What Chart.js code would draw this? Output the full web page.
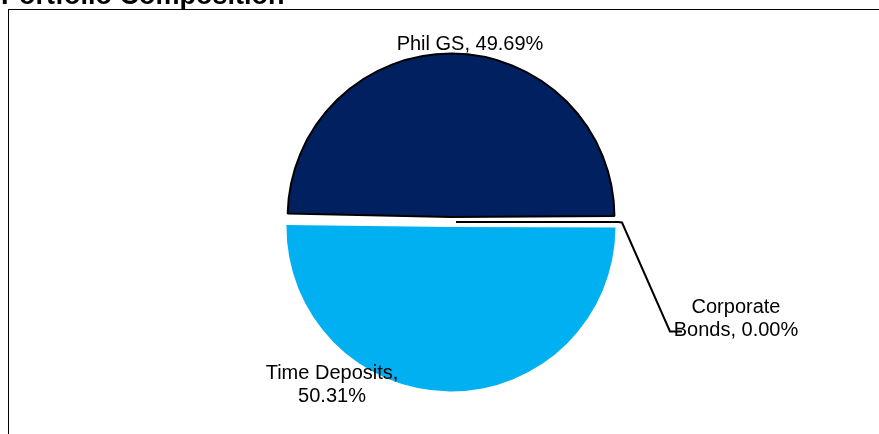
<!DOCTYPE html>
<html>
<head>
<meta charset="utf-8">
<script src="https://cdn.jsdelivr.net/npm/chart.js@4.4.1/dist/chart.umd.min.js"></script>
<style>
  html, body { margin: 0; padding: 0; background: #fff; }
  #wrap { position: relative; width: 879px; height: 434px; overflow: hidden; }
</style>
</head>
<body>
<div id="wrap"><canvas id="chartPortfolio"></canvas></div>
<script>
// Data portofolio
const categories = ['Phil GS', 'Corporate Bonds', 'Time Deposits'];
const shares = [49.69, 0.00, 50.31];
const sliceColors = ['#002060', '#000000', '#00B0F0'];
const titleText = 'Portfolio Composition';

// "Nama, 49.69%" dipecah per baris seperti di gambar
function labelLines(i) {
    const text = categories[i] + ', ' + shares[i].toFixed(2) + '%';
    if (i === 1) return ['Corporate', 'Bonds, ' + shares[i].toFixed(2) + '%'];
    if (i === 2) return [categories[i] + ',', shares[i].toFixed(2) + '%'];
    return [text];
}

const framePlugin = {
    id: 'frame',
    afterDraw(chart) {
        const ctx = chart.ctx;
        const arcs = chart.getDatasetMeta(0).data;
        const cx = arcs[0].x, cy = arcs[0].y, r = arcs[0].outerRadius;

        ctx.save();
        // frame
        ctx.strokeStyle = '#000';
        ctx.lineWidth = 1;
        ctx.strokeRect(8.5, 9.5, 900, 500);

        // title (cut off at the top, as in the picture)
        ctx.fillStyle = '#000';
        ctx.font = 'bold 27px "Liberation Sans", Arial, sans-serif';
        ctx.textAlign = 'left';
        ctx.textBaseline = 'alphabetic';
        ctx.fillText(titleText, 1, 4);

        // zero slice + leader line
        ctx.lineWidth = 2;
        ctx.beginPath();
        ctx.moveTo(cx + 5, cy + 0.5);
        ctx.lineTo(cx + 167, cy + 0.5);
        ctx.lineTo(cx + 171, cy + 1);
        ctx.lineTo(cx + 219, cy + 110);
        ctx.lineTo(cx + 231, cy + 110);
        ctx.stroke();

        // labels
        ctx.font = '20px "Liberation Sans", Arial, sans-serif';
        ctx.textAlign = 'center';
        const spots = [
            [cx + 19, cy - 171.5],
            [cx + 285, cy + 91.5],
            [cx - 119, cy + 157.5]
        ];
        spots.forEach((p, i) => {
            labelLines(i).forEach((line, k) => {
                ctx.fillText(line, p[0], p[1] + k * 22.5);
            });
        });
        ctx.restore();
    }
};

const ctx = document.getElementById('chartPortfolio').getContext('2d');
new Chart(ctx, {
    type: 'pie',
    data: {
        labels: categories,
        datasets: [{
            data: shares,
            backgroundColor: sliceColors,
            borderColor: ['#000', '#000', 'rgba(0,0,0,0)'],
            borderWidth: [2, 0, 0],
            offset: [18, 0, 22]
        }]
    },
    options: {
        responsive: true,
        maintainAspectRatio: false,
        animation: false,
        events: [],
        rotation: -89.0,
        radius: 159,
        layout: { padding: { left: 23, right: 0, top: 9, bottom: 0 } },
        plugins: {
            legend: { display: false },
            tooltip: { enabled: false }
        }
    },
    plugins: [framePlugin]
});
</script>
</body>
</html>
